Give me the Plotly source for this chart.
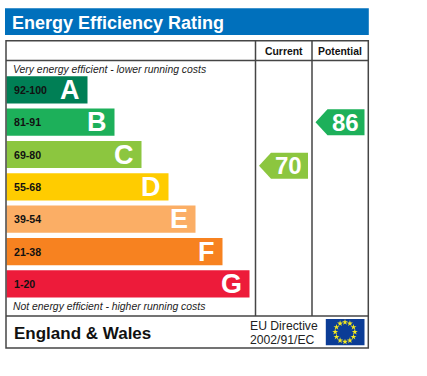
import math
import plotly.graph_objects as go

# ---- data ----
bands = ["A", "B", "C", "D", "E", "F", "G"]
ranges = ["92-100", "81-91", "69-80", "55-68", "39-54", "21-38", "1-20"]
range_low = [92, 81, 69, 55, 39, 21, 1]
range_high = [100, 91, 80, 68, 54, 38, 20]
bar_length = [81, 108, 135, 162, 189, 216, 243]
colors = ["#007F55", "#1DB05A", "#8CC63F", "#FFCC00", "#FBAE65", "#F78220", "#ED1B3A"]
current_score = 70
potential_score = 86
title_text = "Energy Efficiency Rating"
col_labels = ["Current", "Potential"]
top_note = "Very energy efficient - lower running costs"
bottom_note = "Not energy efficient - higher running costs"
region = "England & Wales"
directive = ["EU Directive", "2002/91/EC"]

FONT = "Liberation Sans, Arial, sans-serif"
W, H = 427, 376
LEFT = 6.5
BAND_TOP, BAND_PITCH, BAND_H = 76.2, 32.35, 27.2
LINE = "#454545"


def band_y(i):
    return BAND_TOP + i * BAND_PITCH + BAND_H / 2


def score_y(score):
    for i, (lo, hi) in enumerate(zip(range_low, range_high)):
        if lo <= score <= hi:
            return BAND_TOP + i * BAND_PITCH + (hi - score) / (hi - lo) * BAND_H
    raise ValueError(score)


fig = go.Figure()

# rating bars
fig.add_trace(go.Bar(
    orientation="h",
    x=bar_length,
    y=[band_y(i) for i in range(len(bands))],
    base=LEFT,
    width=BAND_H,
    marker=dict(color=colors, line=dict(width=0)),
    hoverinfo="skip",
))


# score arrows
def arrow(score, tip_x, right_x, color):
    cy = score_y(score)
    half = 13
    notch = tip_x + 12
    fig.add_trace(go.Scatter(
        x=[tip_x, notch, right_x, right_x, notch, tip_x],
        y=[cy, cy - half, cy - half, cy + half, cy + half, cy],
        mode="lines", fill="toself", fillcolor=color,
        line=dict(width=0, color=color), hoverinfo="skip",
    ))
    return cy


def band_color(score):
    for lo, hi, c in zip(range_low, range_high, colors):
        if lo <= score <= hi:
            return c


cy_cur = arrow(current_score, 259, 308, band_color(current_score))
cy_pot = arrow(potential_score, 315.5, 364.5, band_color(potential_score))

# EU flag stars
star_angles = [i * 30 for i in range(12)]
fig.add_trace(go.Scatter(
    x=[345 + 9.8 * math.sin(math.radians(a)) for a in star_angles],
    y=[332 - 9.8 * math.cos(math.radians(a)) for a in star_angles],
    mode="markers",
    marker=dict(symbol="star", size=4.5, color="#F4E81E", line=dict(width=0)),
    hoverinfo="skip",
))

shapes = [
    dict(type="rect", x0=5, x1=368.8, y0=8.2, y1=35, fillcolor="#0070BC", line=dict(width=0), layer="below"),
    dict(type="rect", x0=325.8, x1=364.5, y0=319, y1=345.2, fillcolor="#0B3C96", line=dict(width=0), layer="below"),
    dict(type="rect", x0=6, x1=368.3, y0=40.8, y1=348, line=dict(color=LINE, width=1.5), layer="above"),
]
for y in (60.5, 316):
    shapes.append(dict(type="line", x0=6, x1=368.3, y0=y, y1=y, line=dict(color=LINE, width=1.5)))
for x in (255.5, 312):
    shapes.append(dict(type="line", x0=x, x1=x, y0=40.8, y1=316, line=dict(color=LINE, width=1.5)))


def label(x, y, text, size, color="#111111", bold=False, italic=False, anchor="left"):
    t = f"<b>{text}</b>" if bold else text
    t = f"<i>{t}</i>" if italic else t
    return dict(x=x, y=y, text=t, showarrow=False, xanchor=anchor, yanchor="middle",
                xref="x", yref="y", font=dict(family=FONT, size=size, color=color),
                borderpad=0, borderwidth=0)


ann = [
    label(12, 22.5, title_text, 18, "#FFFFFF", bold=True),
    label(283.7, 51, col_labels[0], 10.4, bold=True, anchor="center"),
    label(340, 51, col_labels[1], 10.4, bold=True, anchor="center"),
    label(12.5, 69, top_note, 10.4, "#222222", italic=True),
    label(12.5, 306.5, bottom_note, 10.4, "#222222", italic=True),
    label(14, 333, region, 17, "#111111", bold=True),
    label(250, 326, directive[0], 12.2, "#222222"),
    label(250, 339.5, directive[1], 12.2, "#222222"),
    label(288.5, cy_cur, str(current_score), 24, "#FFFFFF", bold=True, anchor="center"),
    label(345, cy_pot, str(potential_score), 24, "#FFFFFF", bold=True, anchor="center"),
]
for i, b in enumerate(bands):
    ann.append(label(13.5, band_y(i), ranges[i], 10.6, "#111111", bold=True))
    ann.append(label(LEFT + bar_length[i] - 8, band_y(i), b, 27, "#FFFFFF", bold=True, anchor="right"))

fig.update_layout(
    width=W, height=H, margin=dict(l=0, r=0, t=0, b=0),
    paper_bgcolor="white", plot_bgcolor="white", showlegend=False,
    xaxis=dict(range=[0, W], visible=False, fixedrange=True),
    yaxis=dict(range=[H, 0], visible=False, fixedrange=True),
    shapes=shapes, annotations=ann,
)
fig.write_html(
    "out.html",
    config=dict(displayModeBar=False),
    post_script="document.body.style.margin='0';document.body.style.overflow='hidden';",
)
